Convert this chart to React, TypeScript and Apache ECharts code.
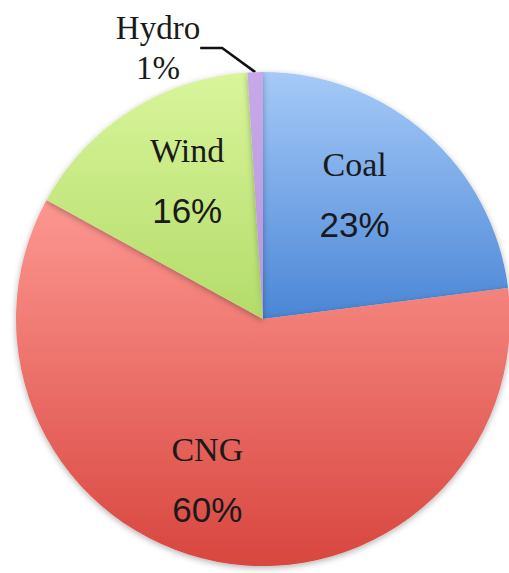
import React, { useEffect, useRef } from "react";
import * as echarts from "echarts";

const categories = ["Coal", "CNG", "Wind", "Hydro"];
const values = [23, 60, 16, 1];
const topColors = ["#a6caf8", "#fd9791", "#d9f59b", "#c7a9ea"];
const bottomColors = ["#4a86d6", "#d8463f", "#b3dc6a", "#b596e0"];
const labelOffsets: number[][] = [[8, -30], [-32, 36], [-8, -32], [0, 0]];

export default function App() {
  const ref = useRef<HTMLDivElement>(null);
  useEffect(() => {
    if (!ref.current) return;
    const chart = echarts.init(ref.current, undefined, { renderer: "svg" });
    const data = categories.map((name, i) => {
      const item: any = {
        name,
        value: values[i],
        itemStyle: {
          color: new echarts.graphic.LinearGradient(0, 0, 0, 1, [
            { offset: 0, color: topColors[i] },
            { offset: 1, color: bottomColors[i] },
          ]),
        },
        label: { offset: labelOffsets[i] },
      };
      if (name === "Hydro") {
        item.label = {
          position: "outside",
          rich: {
            n: { fontFamily: "Liberation Serif", fontSize: 33, color: "#1a1a1a", lineHeight: 40, align: "center" },
            p: { fontFamily: "Liberation Serif", fontSize: 33, color: "#1a1a1a", lineHeight: 40, align: "center" },
          },
        };
        item.labelLine = { show: true, length: 30, length2: 22, lineStyle: { color: "#111", width: 2.5 } };
      }
      return item;
    });
    chart.setOption({
      animation: false,
      series: [
        {
          type: "pie",
          center: [263, 319],
          radius: [0, 247],
          startAngle: 90,
          clockwise: true,
          avoidLabelOverlap: false,
          itemStyle: {
            borderWidth: 0,
            shadowBlur: 6,
            shadowColor: "rgba(0,0,0,0.3)",
            shadowOffsetY: 2,
          },
          label: {
            show: true,
            position: "inside",
            formatter: (p: any) => `{n|${p.name}}\n{p|${p.value}%}`,
            rich: {
              n: { fontFamily: "Liberation Serif", fontSize: 34, color: "#1a1a1a", lineHeight: 60, align: "center" },
              p: { fontFamily: "Liberation Sans", fontSize: 35, color: "#1a1a1a", lineHeight: 60, align: "center" },
            },
          },
          labelLayout: (params: any) => {
            if (params.dataIndex === 3) {
              return { x: 158, y: 48, align: "center", verticalAlign: "middle" };
            }
            return {};
          },
          labelLine: { show: false },
          emphasis: { disabled: true },
          data,
        },
      ],
    });
    return () => chart.dispose();
  }, []);
  return <div ref={ref} style={{ position: "fixed", left: 0, top: 0, width: 509, height: 573, background: "#fff" }} />;
}
